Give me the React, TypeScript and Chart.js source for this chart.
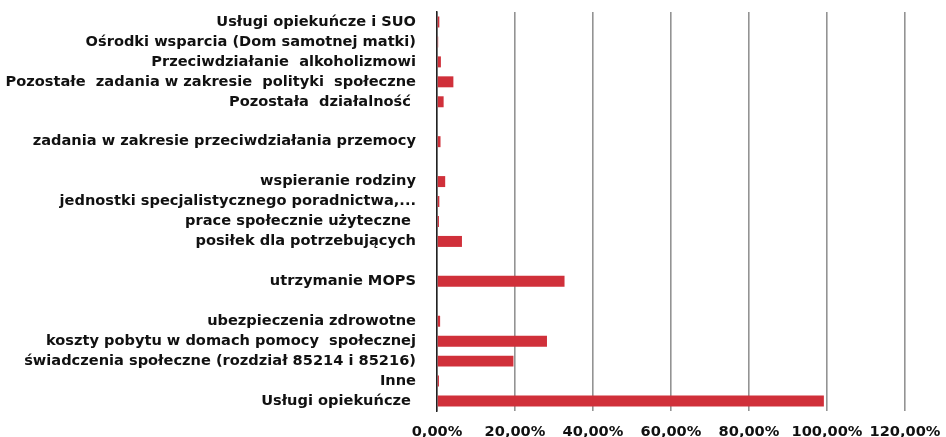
import React, { useEffect, useRef } from "react";
import { Chart, registerables } from "chart.js";

Chart.register(...registerables);

const categories: string[] = [
  "Usługi opiekuńcze i SUO",
  "Ośrodki wsparcia (Dom samotnej matki)",
  "Przeciwdziałanie  alkoholizmowi",
  "Pozostałe  zadania w zakresie  polityki  społeczne",
  "Pozostała  działalność ",
  "",
  "zadania w zakresie przeciwdziałania przemocy",
  " ",
  "wspieranie rodziny",
  "jednostki specjalistycznego poradnictwa,...",
  "prace społecznie użyteczne ",
  "posiłek dla potrzebujących",
  "  ",
  "utrzymanie MOPS",
  "   ",
  "ubezpieczenia zdrowotne",
  "koszty pobytu w domach pomocy  społecznej",
  "świadczenia społeczne (rozdział 85214 i 85216)",
  "Inne",
  "Usługi opiekuńcze ",
];

const shares: (number | null)[] = [
  0.006, 0.003, 0.01, 0.042, 0.017, null, 0.009, null, 0.021, 0.006, 0.005,
  0.064, null, 0.327, null, 0.008, 0.282, 0.196, 0.005, 0.992,
];

const xTicks: number[] = [0, 0.2, 0.4, 0.6, 0.8, 1.0, 1.2];

const fmtPct = (v: number) => (v * 100).toFixed(2).replace(".", ",") + "%";

export default function App() {
  const ref = useRef<HTMLCanvasElement | null>(null);
  useEffect(() => {
    document.body.style.margin = "0";
    if (!ref.current) return;
    const font = { family: "'DejaVu Sans', sans-serif", size: 14.6, weight: "bold" as const };
    const chart = new Chart(ref.current, {
      type: "bar",
      data: {
        labels: categories,
        datasets: [
          {
            data: shares,
            backgroundColor: "#d0303a",
            borderColor: "#c02832",
            borderWidth: 0,
            barPercentage: 0.55,
            categoryPercentage: 1,
          },
        ],
      },
      options: {
        indexAxis: "y",
        animation: false,
        responsive: false,
        maintainAspectRatio: false,
        layout: { padding: { top: 12, right: 41, left: 0, bottom: 0 } },
        plugins: { legend: { display: false }, tooltip: { enabled: false } },
        scales: {
          x: {
            min: 0,
            max: 1.2,
            afterBuildTicks: (scale: any) => {
              scale.ticks = xTicks.map((v) => ({ value: v }));
            },
            afterFit: (scale: any) => {
              scale.height = 26;
              scale.paddingLeft = 0;
              scale.paddingRight = 0;
            },
            grid: { color: "#939393", lineWidth: 1.6, drawTicks: false },
            border: { display: false },
            ticks: {
              color: "#111",
              font,
              padding: 12,
              maxRotation: 0,
              callback: (v: any) => fmtPct(Number(v)),
            },
          },
          y: {
            afterFit: (scale: any) => {
              scale.width = 437;
              scale.paddingTop = 0;
              scale.paddingBottom = 0;
            },
            grid: { display: false, drawTicks: false },
            border: { display: true, color: "#222", width: 1.5 },
            ticks: { color: "#111", font, padding: 21, autoSkip: false },
          },
        },
      },
    });
    return () => chart.destroy();
  }, []);
  return (
    <div style={{ position: "absolute", left: 0, top: 0, width: 946, height: 437, background: "#fff" }}>
      <canvas ref={ref} width={946} height={437} />
    </div>
  );
}
